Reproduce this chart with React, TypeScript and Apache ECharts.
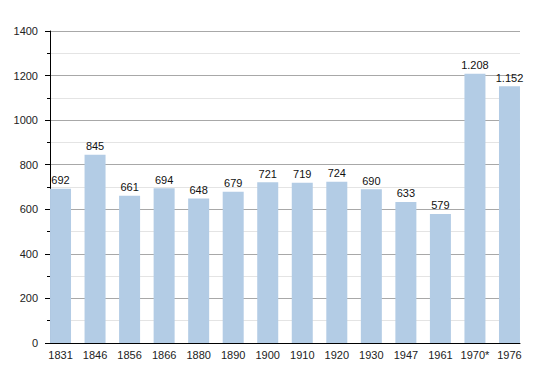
import React, { useEffect, useRef } from "react";
import * as echarts from "echarts";

const categories = ["1831", "1846", "1856", "1866", "1880", "1890", "1900", "1910", "1920", "1930", "1947", "1961", "1970*", "1976"];
const populationValues = [692, 845, 661, 694, 648, 679, 721, 719, 724, 690, 633, 579, 1208, 1152];
const yTicks = { min: 0, max: 1400, interval: 200 };

const fmt = (v: number) => String(v).replace(/\B(?=(\d{3})+(?!\d))/g, ".");

export default function App() {
  const ref = useRef<HTMLDivElement>(null);
  useEffect(() => {
    if (!ref.current) return;
    const chart = echarts.init(ref.current, undefined, { renderer: "svg" });
    const font = "Liberation Sans, Arial, Helvetica, sans-serif";
    chart.setOption({
      animation: false,
      backgroundColor: "#ffffff",
      grid: [
        { left: 50, right: 30, top: 31, bottom: 30 },
        { left: 43.25, right: 23.25, top: 31, bottom: 30 },
      ],
      xAxis: [
        {
          gridIndex: 0,
          type: "value",
          min: 0,
          max: 1,
          axisLine: { show: true, onZero: false, lineStyle: { color: "#000", width: 1 } },
          axisTick: { show: false },
          axisLabel: { show: false },
          splitLine: { show: false },
        },
        {
          gridIndex: 1,
          type: "category",
          data: categories,
          axisLine: { show: false },
          axisTick: { show: false },
          axisLabel: { color: "#222", fontSize: 11, fontFamily: font, margin: 6, interval: 0 },
        },
      ],
      yAxis: [
        {
          gridIndex: 0,
          type: "value",
          min: yTicks.min,
          max: yTicks.max,
          interval: yTicks.interval,
          axisLine: { show: true, lineStyle: { color: "#000", width: 1 } },
          axisTick: { show: true, length: 5, lineStyle: { color: "#000" } },
          minorTick: { show: true, splitNumber: 2, length: 3, lineStyle: { color: "#000" } },
          axisLabel: { color: "#222", fontSize: 11, fontFamily: font, margin: 12, formatter: (v: number) => String(v) },
          splitLine: { show: true, lineStyle: { color: "#a8a8a8", width: 1 } },
          minorSplitLine: { show: true, lineStyle: { color: "#e4e4e4", width: 1 } },
        },
        {
          gridIndex: 1,
          type: "value",
          min: yTicks.min,
          max: yTicks.max,
          show: false,
          splitLine: { show: false },
        },
      ],
      series: [
        {
          type: "bar",
          xAxisIndex: 1,
          yAxisIndex: 1,
          data: populationValues,
          barWidth: 21,
          itemStyle: { color: "#b3cce5" },
          label: {
            show: true,
            position: "top",
            distance: 3,
            color: "#111",
            fontSize: 11,
            fontFamily: font,
            formatter: (p: any) => fmt(p.value),
          },
        },
      ],
    });
    return () => chart.dispose();
  }, []);
  return <div ref={ref} style={{ width: 550, height: 373, position: "absolute", left: 0, top: 0 }} />;
}
